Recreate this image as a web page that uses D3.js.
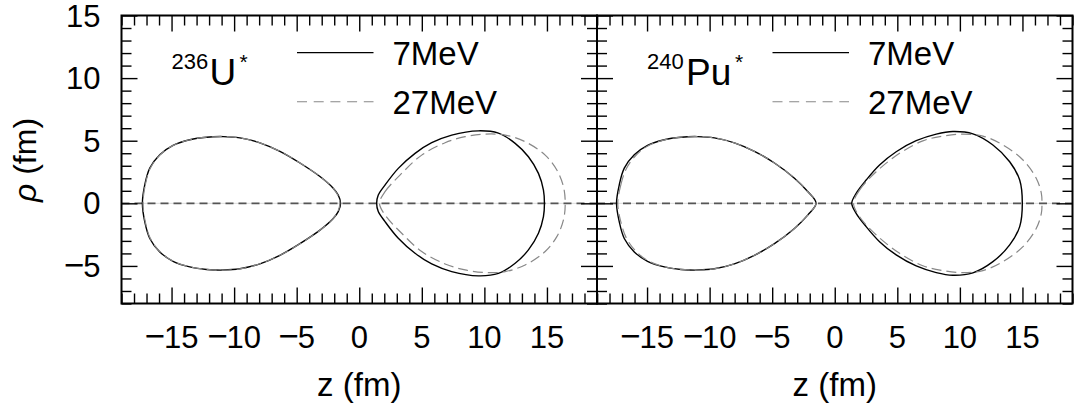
<!DOCTYPE html>
<html><head><meta charset="utf-8">
<script src="https://cdn.jsdelivr.net/npm/d3@7"></script>
<style>
body{margin:0;background:#fff}
svg{display:block}
text{font-family:"Liberation Sans",Arial,Helvetica,sans-serif;fill:#000}
</style>
</head><body>
<svg id="c" width="1075" height="412"></svg>
<script>
// ---- data ----
const nuclei = ["236", "240"];
const nucleusSymbols = ["U", "Pu"];
const energies = ["7MeV", "27MeV"];
const xTicks = [-15, -10, -5, 0, 5, 10, 15];
const yTicks = [-5, 0, 5, 10, 15];
const xDomain = [-19, 19];
const yDomain = [-8, 15];

// upper-half contours of the fragments: [z (fm), rho (fm)]
const U7_left  = [[-17.33,0],[-17.14,1.48],[-16.74,2.81],[-15.94,3.88],[-14.88,4.63],[-13.54,5.08],[-12.2,5.28],[-10.88,5.33],[-9.54,5.23],[-7.94,4.83],[-6.34,4.15],[-4.74,3.22],[-3.14,2.14],[-2.08,1.21],[-1.68,0.66],[-1.49,0]];
const U27_left = [[-17.28,0],[-17.1,1.47],[-16.7,2.8],[-15.92,3.87],[-14.86,4.63],[-13.52,5.08],[-12.2,5.28],[-10.88,5.33],[-9.54,5.23],[-7.94,4.83],[-6.34,4.15],[-4.74,3.23],[-3.14,2.15],[-2.1,1.22],[-1.72,0.67],[-1.55,0]];
const U7_right  = [[1.39,0],[1.52,0.66],[2.06,1.46],[3.12,2.79],[4.46,3.99],[5.79,4.84],[7.39,5.45],[9.52,5.79],[11.12,5.6],[12.46,4.79],[13.52,3.72],[14.32,2.39],[14.72,1.06],[14.8,0]];
const U27_right = [[1.62,0],[2.06,0.93],[3.39,2.39],[4.99,3.85],[6.86,4.84],[8.46,5.32],[10.06,5.53],[11.66,5.45],[13.26,4.92],[14.86,3.85],[15.79,2.66],[16.32,1.33],[16.46,0]];
const Pu7_left  = [[-17.44,0],[-17.22,1.48],[-16.82,2.81],[-16.02,3.88],[-14.96,4.63],[-13.62,5.08],[-12.29,5.28],[-10.96,5.33],[-9.62,5.23],[-8.02,4.83],[-6.42,4.15],[-4.82,3.22],[-3.22,2.01],[-2.16,0.94],[-1.49,0]];
const Pu27_left = [[-17.34,0],[-17.1,1.46],[-16.66,2.76],[-15.9,3.82],[-14.9,4.6],[-13.6,5.07],[-12.29,5.28],[-10.96,5.33],[-9.62,5.23],[-8.02,4.83],[-6.42,4.15],[-4.82,3.22],[-3.22,2.01],[-2.16,0.94],[-1.5,0]];
const Pu7_right  = [[1.36,0],[1.71,0.8],[2.51,1.86],[3.58,3.06],[4.91,4.12],[6.51,5.0],[8.11,5.53],[9.44,5.74],[11.04,5.55],[12.64,4.66],[13.98,3.32],[14.78,1.86],[14.99,0]];
const Pu27_right = [[1.5,0],[1.98,1.06],[3.31,2.52],[5.18,3.99],[7.04,4.99],[8.64,5.37],[10.24,5.53],[11.84,5.37],[13.44,4.66],[15.04,3.46],[16.11,1.99],[16.51,0.8],[16.56,0]];

const shapes = [
  {solid: [U7_left, U7_right], dashed: [U27_left, U27_right]},
  {solid: [Pu7_left, Pu7_right], dashed: [Pu27_left, Pu27_right]}
];

// ---- layout ----
const svg = d3.select("#c");
const panelX = [[121.5, 597], [597, 1072.5]];
const yTop = 15.5, yBottom = 303.5;
const y = d3.scaleLinear().domain(yDomain).range([yBottom, yTop]);

const line = d3.line().x(d => d[0]).y(d => d[1]).curve(d3.curveCatmullRomClosed.alpha(0.5));
function closed(pts, x) {
  const upper = pts.map(p => [x(p[0]), y(p[1])]);
  const lower = pts.slice(1, -1).reverse().map(p => [x(p[0]), y(-p[1])]);
  return line(upper.concat(lower));
}
// tick label: slightly longer minus sign as in the reference
function label(t, d) {
  if (d < 0) {
    t.append("tspan").attr("font-size", 35).text("\u2212");
    t.append("tspan").attr("dx", -1).text(Math.abs(d));
  } else {
    t.text(d);
  }
}

panelX.forEach((r, i) => {
  const x = d3.scaleLinear().domain(xDomain).range(r);
  const g = svg.append("g");
  const minorX = d3.range(xDomain[0], xDomain[1] + 1).filter(v => !xTicks.includes(v));
  const minorY = d3.range(yDomain[0], yDomain[1] + 1).filter(v => !yTicks.includes(v));

  // axis rho = 0
  g.append("line").attr("x1", r[0]).attr("x2", r[1]).attr("y1", y(0)).attr("y2", y(0))
    .attr("stroke", "#dcdcdc").attr("stroke-width", 1);
  g.append("line").attr("x1", r[0]).attr("x2", r[1]).attr("y1", y(0)).attr("y2", y(0))
    .attr("stroke", "#555").attr("stroke-width", 1.6).attr("stroke-dasharray", "8,5");

  // shapes
  shapes[i].solid.forEach(s => g.append("path").attr("d", closed(s, x))
    .attr("fill", "none").attr("stroke", "#000").attr("stroke-width", 1.4));
  shapes[i].dashed.forEach(s => g.append("path").attr("d", closed(s, x))
    .attr("fill", "none").attr("stroke", "#888").attr("stroke-width", 1.2).attr("stroke-dasharray", "10,5"));

  // axes with inward ticks
  const mk = (gen, tr, vals, size) => {
    const a = g.append("g").attr("transform", tr)
      .call(gen.tickValues(vals).tickSize(size).tickSizeOuter(0).tickFormat(""));
    a.select(".domain").remove();
    a.selectAll(".tick line").attr("stroke", "#000").attr("stroke-width", 1.4);
    a.selectAll(".tick text").remove();
    return a;
  };
  mk(d3.axisBottom(x), `translate(0,${yBottom})`, minorX, -10);
  mk(d3.axisTop(x), `translate(0,${yTop})`, minorX, -10);
  mk(d3.axisLeft(y), `translate(${r[0]},0)`, minorY, -10);
  mk(d3.axisRight(y), `translate(${r[1]},0)`, minorY, -10);
  mk(d3.axisBottom(x), `translate(0,${yBottom})`, xTicks, -16);
  mk(d3.axisTop(x), `translate(0,${yTop})`, xTicks, -16);
  mk(d3.axisRight(y), `translate(${r[1]},0)`, yTicks, -16);
  mk(d3.axisLeft(y), `translate(${r[0]},0)`, yTicks, -16);

  // tick labels
  g.selectAll(".xl").data(xTicks).enter().append("text")
    .attr("x", d => x(d)).attr("y", 348).attr("text-anchor", "middle")
    .attr("font-size", 31).each(function(d) { label(d3.select(this), d); });
  if (i === 0) {
    g.selectAll(".yl").data(yTicks).enter().append("text")
      .attr("x", r[0] - 21).attr("y", d => y(d) + 11).attr("text-anchor", "end")
      .attr("font-size", 31).each(function(d) { label(d3.select(this), d); });
  }

  // frame
  g.append("rect").attr("x", r[0]).attr("y", yTop).attr("width", r[1] - r[0]).attr("height", yBottom - yTop)
    .attr("fill", "none").attr("stroke", "#000").attr("stroke-width", 2);

  // x title
  g.append("text").attr("x", (r[0] + r[1]) / 2).attr("y", 396).attr("text-anchor", "middle")
    .attr("font-size", 33).text("z (fm)");

  // nucleus label
  const ox = r[0];
  g.append("text").attr("x", ox + 50).attr("y", 68.5).attr("font-size", 22).text(nuclei[i]);
  g.append("text").attr("x", ox + (i === 0 ? 88 : 89)).attr("y", 85).attr("font-size", 37).text(nucleusSymbols[i]);
  g.append("text").attr("x", ox + (i === 0 ? 118 : 138)).attr("y", 69).attr("font-size", 21).text("*");

  // legend
  g.append("line").attr("x1", ox + 175.5).attr("x2", ox + 252).attr("y1", 52.7).attr("y2", 52.7)
    .attr("stroke", "#000").attr("stroke-width", 1.3);
  g.append("line").attr("x1", ox + 175.5).attr("x2", ox + 252).attr("y1", 101.7).attr("y2", 101.7)
    .attr("stroke", "#888").attr("stroke-width", 1.1).attr("stroke-dasharray", "10,6.7");
  g.append("text").attr("x", ox + 271).attr("y", 65).attr("font-size", 33).text(energies[0]);
  g.append("text").attr("x", ox + 271).attr("y", 113.5).attr("font-size", 33).text(energies[1]);
});

// y title
svg.append("text").attr("transform", "translate(36,160) rotate(-90)").attr("text-anchor", "middle")
  .attr("font-size", 32)
  .call(t => { t.append("tspan").attr("font-style", "italic").text("\u03c1"); t.append("tspan").text(" (fm)"); });
</script>
</body></html>
